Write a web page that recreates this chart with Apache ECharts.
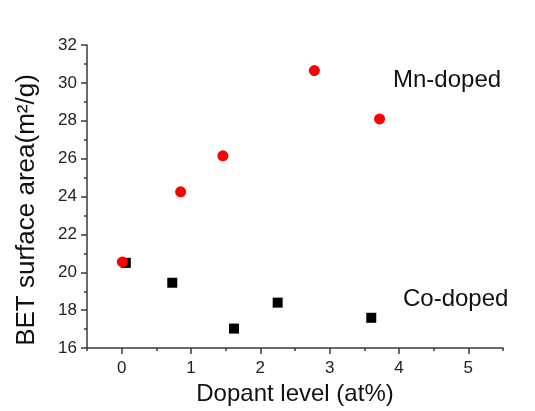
<!DOCTYPE html>
<html>
<head>
<meta charset="utf-8">
<style>
  html, body { margin: 0; padding: 0; background: #fff; }
  #chart { width: 535px; height: 411px; }
</style>
<script src="https://cdn.jsdelivr.net/npm/echarts@6/dist/echarts.min.js"></script>
</head>
<body>
<div id="chart"></div>
<script>
// BET surface area vs. dopant level for Mn- and Co-doped samples
const mnDopant = [0.01, 0.85, 1.46, 2.78, 3.72];
const mnArea   = [20.55, 24.25, 26.15, 30.65, 28.1];
const coDopant = [0.06, 0.73, 1.62, 2.25, 3.6];
const coArea   = [20.5, 19.45, 17.03, 18.4, 17.6];
const xTicks = [0, 1, 2, 3, 4, 5];

const FONT = 'Liberation Sans, Arial, sans-serif';
const AXIS_COLOR = '#3a3a3a';

const chart = echarts.init(document.getElementById('chart'), null, { renderer: 'canvas' });

const pairs = (xs, ys) => xs.map((x, i) => [x, ys[i]]);

chart.setOption({
  animation: false,
  backgroundColor: '#ffffff',
  grid: { left: 87, right: 32, top: 45, bottom: 61, containLabel: false },
  xAxis: [
    {
      type: 'value', min: -0.5, max: 5.5,
      name: 'Dopant level (at%)', nameLocation: 'middle', nameGap: 27,
      nameTextStyle: { fontFamily: FONT, fontSize: 24, color: '#111', verticalAlign: 'top' },
      axisLine: { show: true, onZero: false, lineStyle: { color: AXIS_COLOR, width: 1.5 } },
      axisTick: { show: true, customValues: xTicks, length: 6, lineStyle: { color: AXIS_COLOR, width: 1.5 } },
      axisLabel: { customValues: xTicks, margin: 12, fontFamily: FONT, fontSize: 17, color: '#222' },
      splitLine: { show: false }
    },
    {
      // minor ticks every 0.5
      type: 'value', min: -0.5, max: 5.5, interval: 0.5, position: 'bottom',
      axisLine: { show: false },
      axisTick: { show: true, length: 3, lineStyle: { color: AXIS_COLOR, width: 1.5 } },
      axisLabel: { show: false },
      splitLine: { show: false }
    }
  ],
  yAxis: {
    type: 'value', min: 16, max: 32, interval: 2,
    axisLine: { show: true, onZero: false, lineStyle: { color: AXIS_COLOR, width: 1.5 } },
    axisTick: { show: true, length: 6, lineStyle: { color: AXIS_COLOR, width: 1.5 } },
    minorTick: { show: true, splitNumber: 2, length: 3, lineStyle: { color: AXIS_COLOR, width: 1.5 } },
    axisLabel: { margin: 10, fontFamily: FONT, fontSize: 17, color: '#222' },
    splitLine: { show: false }
  },
  series: [
    {
      name: 'Co-doped', type: 'scatter', xAxisIndex: 0,
      symbol: 'rect', symbolSize: 10,
      itemStyle: { color: '#000000', opacity: 1 },
      data: pairs(coDopant, coArea), z: 2
    },
    {
      name: 'Mn-doped', type: 'scatter', xAxisIndex: 0,
      symbol: 'circle', symbolSize: 11,
      itemStyle: { color: '#ff0000', opacity: 1 },
      data: pairs(mnDopant, mnArea), z: 3
    }
  ],
  graphic: [
    { type: 'text', x: 27, y: 210, rotation: Math.PI / 2,
      style: { text: 'BET surface area(m\u00B2/g)', font: '26px ' + FONT, fill: '#111',
               align: 'center', verticalAlign: 'middle' } },
    { type: 'text', left: 393, top: 68,
      style: { text: 'Mn-doped', font: '24px ' + FONT, fill: '#111' } },
    { type: 'text', left: 403, top: 287,
      style: { text: 'Co-doped', font: '24px ' + FONT, fill: '#111' } }
  ]
});
</script>
</body>
</html>
